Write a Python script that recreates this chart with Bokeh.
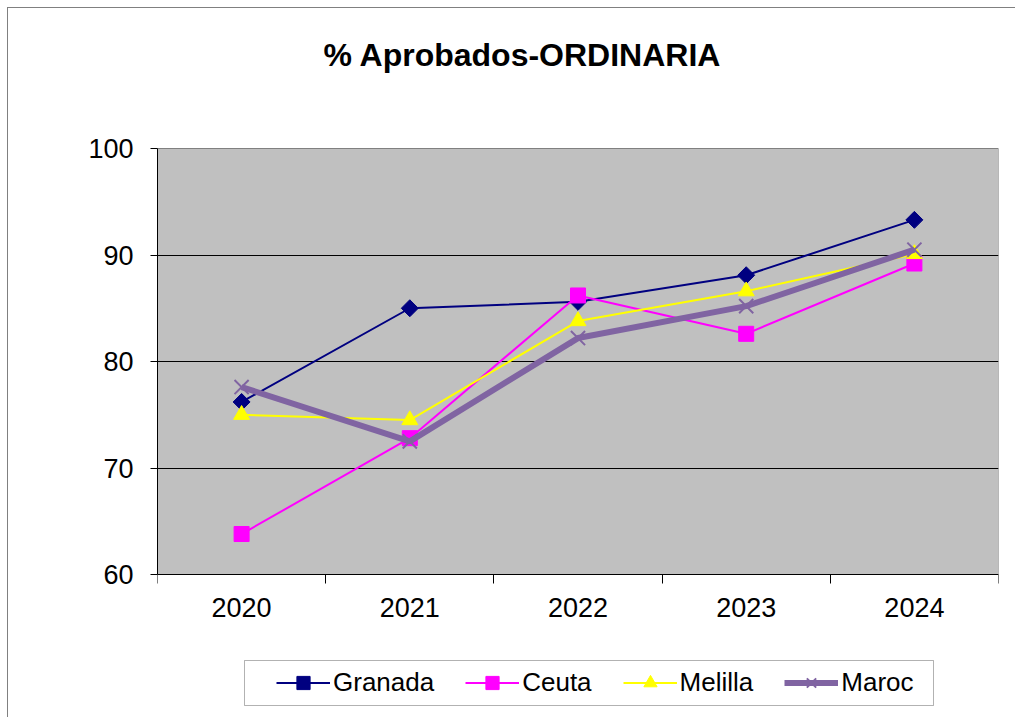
import math
from bokeh.plotting import figure
from bokeh.models import (Range1d, FixedTicker, Legend, LegendItem, Label, LinearAxis,
                          BoxAnnotation)
from bokeh.embed import file_html
from bokeh.resources import INLINE

# ---- data ----
years = ["2020", "2021", "2022", "2023", "2024"]
granada = [76.2, 85.0, 85.6, 88.1, 93.3]
ceuta = [63.8, 72.8, 86.2, 82.6, 89.2]
melilla = [75.0, 74.5, 83.8, 86.6, 90.1]
maroc = [77.6, 72.5, 82.2, 85.2, 90.5]
y_ticks = [60, 70, 80, 90, 100]
series_names = ["Granada", "Ceuta", "Melilla", "Maroc"]
chart_title = "% Aprobados-ORDINARIA"

FONT = "Liberation Sans"

xs = [i + 0.5 for i in range(len(years))]
y_lo, y_hi = y_ticks[0], y_ticks[-1]
ppu = 10.65                 # pixels per value unit in the plot area
ppc = (998 - 157) / len(years)  # pixels per category


def px_to_y(py):
    return y_lo - (py - 574) / ppu


def px_to_x(px):
    return (px - 157) / ppc


p = figure(width=1008, height=710, output_backend="svg", toolbar_location=None,
           x_range=Range1d(0, len(years)),
           y_range=Range1d(px_to_y(718), px_to_y(8)),
           x_axis_location=None,
           min_border_left=149, min_border_right=18, min_border_top=0,
           min_border_bottom=0)
p.styles = {"border-left": "1px solid #808080", "border-top": "1px solid #808080",
            "margin-left": "7px", "margin-top": "7px"}

p.background_fill_color = "white"
p.border_fill_color = "white"
p.outline_line_color = None

# grey plot area (drawn beneath the grid)
p.quad(left=0, right=len(years), bottom=y_lo, top=y_hi, fill_color="#C0C0C0",
       line_color="#808080", line_width=1, level="image")

# x axis: ticks at category boundaries, labels at centres
xa = LinearAxis(fixed_location=y_lo, bounds=(0, len(years)))
xa.ticker = FixedTicker(ticks=xs, minor_ticks=list(range(len(years) + 1)))
xa.major_label_overrides = {x: y for x, y in zip(xs, years)}
xa.major_tick_line_color = None
xa.major_tick_out = 0
xa.major_tick_in = 0
xa.minor_tick_line_color = "black"
xa.minor_tick_out = 9
xa.minor_tick_in = 0
xa.axis_line_color = "black"
xa.major_label_text_font = FONT
xa.major_label_text_font_size = "27px"
xa.major_label_text_color = "black"
xa.major_label_standoff = 14
p.add_layout(xa, "below")

ya = p.yaxis[0]
ya.ticker = FixedTicker(ticks=y_ticks)
ya.bounds = (y_lo, y_hi)
ya.major_tick_line_color = "black"
ya.major_tick_out = 7
ya.major_tick_in = 0
ya.minor_tick_line_color = None
ya.axis_line_color = "black"
ya.major_label_text_font = FONT
ya.major_label_text_font_size = "27px"
ya.major_label_text_color = "black"
ya.major_label_standoff = 17

p.xgrid.grid_line_color = None
p.ygrid.ticker = FixedTicker(ticks=y_ticks[1:-1])
p.ygrid.grid_line_color = "black"
p.ygrid.grid_line_width = 1

styles = [
    dict(color="#000080", lw=2, marker="square", size=12, angle=math.pi / 4, mlw=1),
    dict(color="#FF00FF", lw=2, marker="square", size=15, angle=0, mlw=1),
    dict(color="#FFFF00", lw=2, marker="triangle", size=16, angle=0, mlw=1),
    dict(color="#8064A2", lw=6, marker="x", size=20, angle=0, mlw=2),
]

items = []
for name, vals, st in zip(series_names, [granada, ceuta, melilla, maroc], styles):
    l = p.line(xs, vals, line_color=st["color"], line_width=st["lw"])
    s = p.scatter(xs, vals, marker=st["marker"], size=st["size"], angle=st["angle"],
                  fill_color=st["color"], line_color=st["color"], line_width=st["mlw"])
    items.append(LegendItem(label=name, renderers=[l, s]))

# legend frame
p.add_layout(BoxAnnotation(left=px_to_x(244), right=px_to_x(933),
                           top=px_to_y(660), bottom=px_to_y(705),
                           fill_color="white", fill_alpha=1,
                           line_color="black", line_width=1))

legend = Legend(items=items, orientation="horizontal", location=(119, 718 - 699),
                glyph_width=54, glyph_height=33, label_height=33,
                label_standoff=3, spacing=31, padding=0, margin=0,
                label_text_font=FONT, label_text_font_size="26px",
                label_text_color="black",
                border_line_color=None, background_fill_alpha=0)
p.add_layout(legend, "center")

p.add_layout(Label(x=px_to_x(522), y=px_to_y(54), text=chart_title,
                   text_align="center", text_baseline="middle", text_font=FONT,
                   text_font_size="32px", text_font_style="bold",
                   text_color="black"))

open("out.html", "w").write(file_html(p, INLINE))
